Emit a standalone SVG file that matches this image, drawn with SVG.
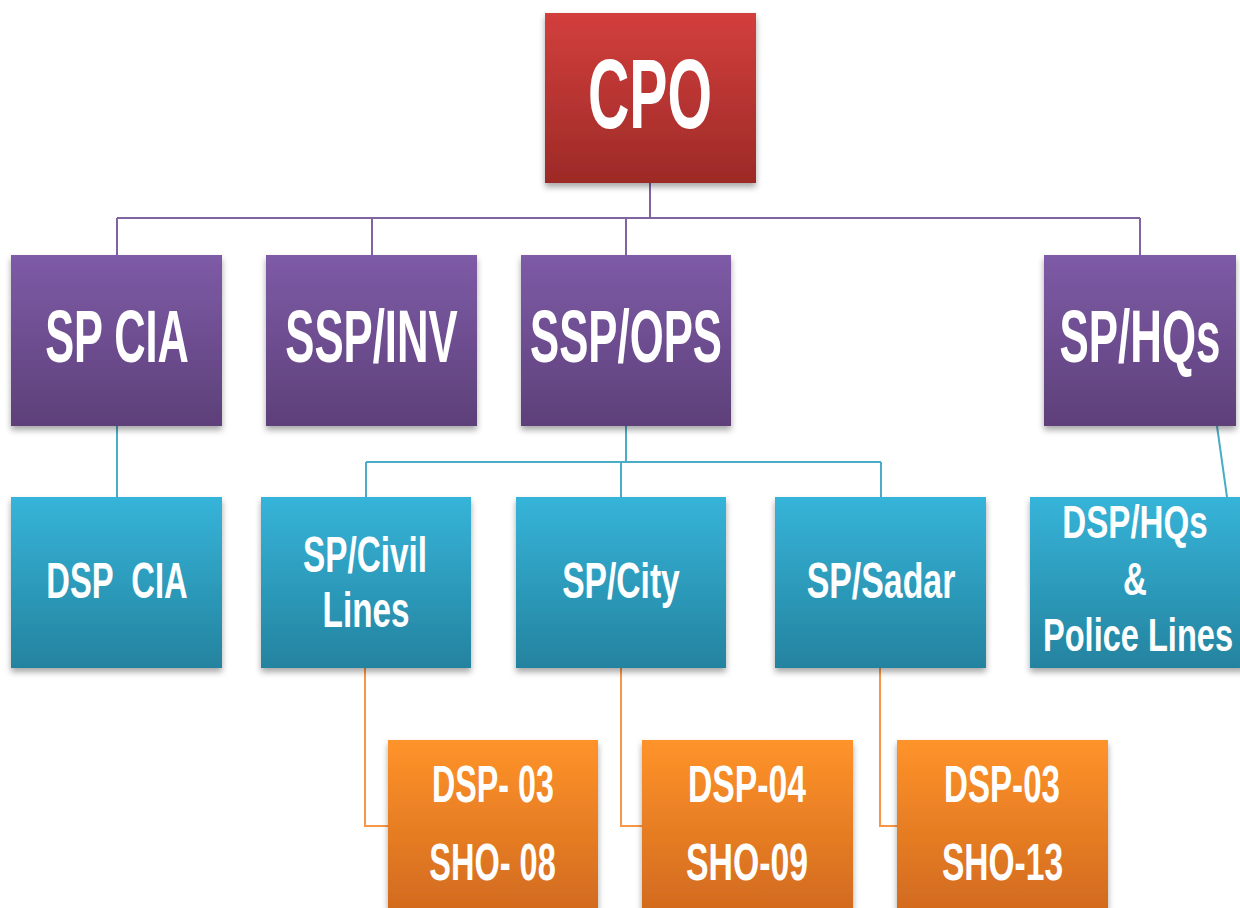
<svg xmlns="http://www.w3.org/2000/svg" width="1240" height="908" viewBox="0 0 1240 908">
<defs>
<linearGradient id="gRed" x1="0" y1="0" x2="0" y2="1"><stop offset="0" stop-color="#D23F3C"/><stop offset="1" stop-color="#9D2A27"/></linearGradient>
<linearGradient id="gPur" x1="0" y1="0" x2="0" y2="1"><stop offset="0" stop-color="#7E5BA7"/><stop offset="1" stop-color="#5D4079"/></linearGradient>
<linearGradient id="gTeal" x1="0" y1="0" x2="0" y2="1"><stop offset="0" stop-color="#36B4D9"/><stop offset="1" stop-color="#24839F"/></linearGradient>
<linearGradient id="gOr" x1="0" y1="0" x2="0" y2="1"><stop offset="0" stop-color="#FF932A"/><stop offset="1" stop-color="#CF681E"/></linearGradient>
<filter id="sh" x="-10%" y="-10%" width="120%" height="130%"><feDropShadow dx="0" dy="4" stdDeviation="3" flood-color="#000" flood-opacity="0.35"/></filter>
</defs>
<style>
text{font-family:"Liberation Sans",Arial,sans-serif;font-weight:bold;fill:#fff;text-anchor:middle}
.pl{stroke:#8064A2;stroke-width:2;fill:none}
.tl{stroke:#4BACC6;stroke-width:2;fill:none}
.ol{stroke:#F79646;stroke-width:2;fill:none}
.l1{font-size:99px}
.l2{font-size:75px}
.l3{font-size:50px}
.l3b{font-size:47px}
.l4{font-size:52px}
</style>
<g id="connectors">
<path class="pl" d="M650 183V218M117 218H1140M117 218V255M372 218V255M626 218V255M1140 218V255"/>
<path class="tl" d="M117 426V497M626 426V462M366 462H881M366 462V497M621 462V497M881 462V497M1217 426L1227 497"/>
<path class="ol" d="M365 668V826H388M621 668V826H642M880 668V826H897"/>
</g>
<g id="cpo"><rect x="545" y="13" width="211" height="170" fill="url(#gRed)" filter="url(#sh)"/><text class="l1" transform="translate(650 128) scale(0.578 1)">CPO</text></g>
<g id="spcia"><rect x="11" y="255" width="211" height="171" fill="url(#gPur)" filter="url(#sh)"/><text class="l2" transform="translate(117 362) scale(0.578 1)">SP CIA</text></g>
<g id="sspinv"><rect x="266" y="255" width="211" height="171" fill="url(#gPur)" filter="url(#sh)"/><text class="l2" transform="translate(371.5 362) scale(0.583 1)">SSP/INV</text></g>
<g id="sspops"><rect x="521" y="255" width="210" height="171" fill="url(#gPur)" filter="url(#sh)"/><text class="l2" transform="translate(626 362) scale(0.583 1)">SSP/OPS</text></g>
<g id="sphqs"><rect x="1044" y="255" width="192" height="171" fill="url(#gPur)" filter="url(#sh)"/><text class="l2" transform="translate(1140 362) scale(0.585 1)">SP/HQs</text></g>
<g id="dspcia"><rect x="11" y="497" width="211" height="171" fill="url(#gTeal)" filter="url(#sh)"/><text class="l3" transform="translate(117 598) scale(0.655 1)" xml:space="preserve">DSP  CIA</text></g>
<g id="spcivil"><rect x="261" y="497" width="210" height="171" fill="url(#gTeal)" filter="url(#sh)"/><text class="l3" transform="translate(365 572) scale(0.665 1)">SP/Civil</text><text class="l3" transform="translate(366 627) scale(0.665 1)">Lines</text></g>
<g id="spcity"><rect x="516" y="497" width="210" height="171" fill="url(#gTeal)" filter="url(#sh)"/><text class="l3" transform="translate(621 598) scale(0.672 1)">SP/City</text></g>
<g id="spsadar"><rect x="775" y="497" width="211" height="171" fill="url(#gTeal)" filter="url(#sh)"/><text class="l3" transform="translate(881 598) scale(0.677 1)">SP/Sadar</text></g>
<g id="dsphqs"><rect x="1030" y="497" width="215" height="171" fill="url(#gTeal)" filter="url(#sh)"/><text class="l3b" transform="translate(1135 538) scale(0.705 1)">DSP/HQs</text><text class="l3b" transform="translate(1135 595) scale(0.705 1)">&amp;</text><text class="l3b" transform="translate(1138 651) scale(0.693 1)">Police Lines</text></g>
<g id="civilsub"><rect x="388" y="740" width="210" height="180" fill="url(#gOr)" filter="url(#sh)"/><text class="l4" transform="translate(493 802) scale(0.62 1)">DSP- 03</text><text class="l4" transform="translate(492.5 880) scale(0.625 1)">SHO- 08</text></g>
<g id="citysub"><rect x="642" y="740" width="211" height="180" fill="url(#gOr)" filter="url(#sh)"/><text class="l4" transform="translate(747 802) scale(0.648 1)">DSP-04</text><text class="l4" transform="translate(747 880) scale(0.65 1)">SHO-09</text></g>
<g id="sadarsub"><rect x="897" y="740" width="211" height="180" fill="url(#gOr)" filter="url(#sh)"/><text class="l4" transform="translate(1002 802) scale(0.637 1)">DSP-03</text><text class="l4" transform="translate(1002.5 880) scale(0.645 1)">SHO-13</text></g>
</svg>
